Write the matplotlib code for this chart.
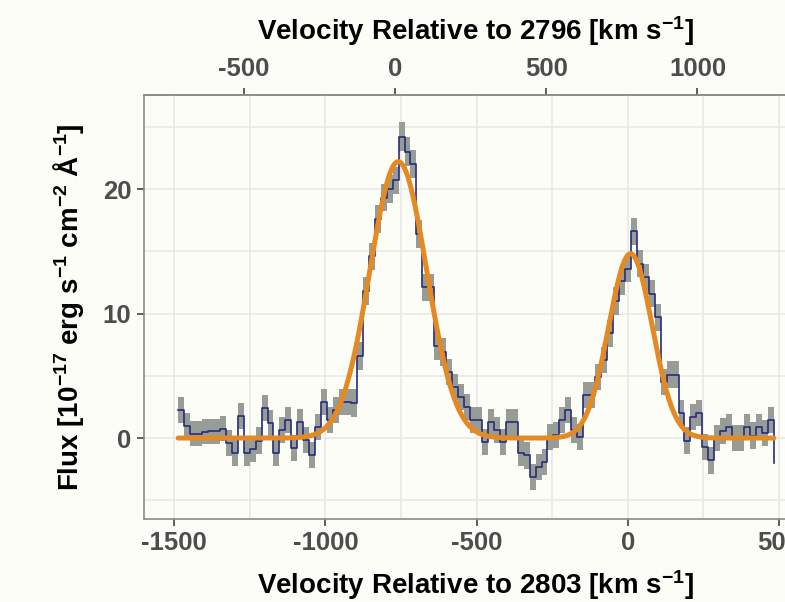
import numpy as np
import matplotlib
matplotlib.use("Agg")
import matplotlib.pyplot as plt
from matplotlib.ticker import MultipleLocator, FixedLocator

# Spectrum binned in velocity relative to Mg II 2803 (km/s)
velocity = np.linspace(-1487, 483, 101)

flux = np.array([
    2.25, 1.0, 0.35, 0.35, 0.5, 0.55, 0.55, 0.75, -0.4, -1.2,
    1.75, -1.2, -0.9, -0.2, 2.4, 1.2, -1.2, 0.65, 1.45, -0.8,
    1.3, -0.15, -1.35, 0.9, 2.9, 1.45, 2.25, 2.9, 2.9, 2.8,
    6.6, 11.8, 14.6, 17.6, 19.3, 20.0, 20.7, 24.2, 23.0, 22.0,
    16.4, 12.1, 12.1, 7.4, 6.9, 5.3, 4.1, 3.3, 2.5, 1.45,
    1.45, -0.3, 1.3, 0.65, -0.3, 1.25, 1.25, -1.2, -1.4, -3.1,
    -2.3, -1.9, 0.1, 0.25, 1.45, 2.25, 0.65, 0.1, 3.45, 3.45,
    4.9, 6.3, 8.4, 11.0, 12.6, 13.6, 16.6, 14.0, 12.9, 11.6,
    9.7, 4.5, 5.1, 5.1, 2.0, -0.2, 1.7, 2.0, -0.7, -1.8,
    0.0, 0.6, 0.9, 0.0, 0.0, 0.9, 0.2, 0.9, 0.4, 1.45,
    -2.0,
])

flux_err = np.array([
    1.05, 1.0, 1.0, 1.0, 1.0, 1.0, 1.0, 1.0, 1.05, 1.05,
    1.05, 1.05, 1.05, 1.05, 1.05, 1.05, 1.05, 1.05, 1.05, 1.05,
    1.05, 1.05, 1.05, 1.05, 1.05, 1.05, 1.05, 1.05, 1.05, 1.1,
    1.1, 1.1, 1.1, 1.1, 1.1, 1.1, 1.1, 1.15, 1.15, 1.1,
    1.1, 1.1, 1.1, 1.1, 1.1, 1.05, 1.05, 1.05, 1.05, 1.05,
    1.05, 1.05, 1.05, 1.05, 1.05, 1.05, 1.05, 1.05, 1.05, 1.05,
    1.05, 1.05, 1.05, 1.05, 1.05, 1.05, 1.05, 1.05, 1.05, 1.05,
    1.05, 1.05, 1.1, 1.1, 1.1, 1.1, 1.1, 1.1, 1.1, 1.1,
    1.1, 1.05, 1.05, 1.05, 1.05, 1.05, 1.05, 1.05, 1.05, 1.05,
    1.05, 1.05, 1.05, 1.05, 1.05, 1.05, 1.05, 1.05, 1.05, 1.05,
    1.05,
])

# Double-Gaussian fit to the doublet: amplitude, centre, width
fit_amp = [22.2, 14.8]
fit_center = [-759.0, 9.0]
fit_sigma = [94.0, 72.0]

# Velocity separation between the 2796 and 2803 lines
LINE_OFFSET = 769.6

bg = "#FDFDF8"
plt.rcParams["font.family"] = ["Liberation Sans", "DejaVu Sans"]
plt.rcParams["font.weight"] = "bold"
plt.rcParams["axes.unicode_minus"] = False
plt.rcParams["mathtext.fontset"] = "custom"
plt.rcParams["mathtext.rm"] = "Liberation Sans:bold"
plt.rcParams["mathtext.default"] = "rm"

TICK_FS = 18.5
TITLE_FS = 20

fig = plt.figure(figsize=(7.85, 6.02), dpi=100, facecolor=bg)
ax = fig.add_axes([144 / 785, 83 / 602, 664 / 785, 424 / 602])
ax.set_facecolor(bg)

ax.fill_between(velocity, flux - flux_err, flux + flux_err, step="post",
                color="#979C97", lw=0, zorder=2)
ax.step(velocity, flux, where="post", color="#262C7A", lw=1.2, zorder=3)

v_fine = np.linspace(velocity[0], velocity[-1], 800)
model = np.zeros_like(v_fine)
for a, mu, s in zip(fit_amp, fit_center, fit_sigma):
    model += a * np.exp(-0.5 * ((v_fine - mu) / s) ** 2)
ax.plot(v_fine, model, color="#E58A23", lw=3.6, solid_capstyle="round", zorder=4)

ax.set_xlim(-1600, 596)
ax.set_ylim(-6.5, 27.55)
ax.xaxis.set_major_locator(FixedLocator([-1500, -1000, -500, 0, 500]))
ax.xaxis.set_minor_locator(MultipleLocator(250))
ax.yaxis.set_major_locator(FixedLocator([0, 10, 20]))
ax.yaxis.set_minor_locator(MultipleLocator(5))
ax.grid(which="both", color="#E6E6E6", lw=1.1)
ax.set_axisbelow(True)

for side in ["left", "bottom", "top"]:
    ax.spines[side].set_color("#8A8A8A")
    ax.spines[side].set_linewidth(1.2)
ax.spines["right"].set_visible(False)

ax.tick_params(which="major", direction="out", length=5, width=1.1,
               color="#333333", labelsize=TICK_FS, labelcolor="#4D4D4D", pad=4)
ax.tick_params(which="minor", length=0)

ax.set_xlabel("Velocity Relative to 2803 [km s$^{-1}$]", fontsize=TITLE_FS,
              fontweight="bold", labelpad=9)
ax.set_ylabel("Flux [10$^{-17}$ erg s$^{-1}$ cm$^{-2}$ Å$^{-1}$]", fontsize=TITLE_FS,
              fontweight="bold", labelpad=12)

top = ax.secondary_xaxis("top", functions=(lambda v: v + LINE_OFFSET,
                                            lambda v: v - LINE_OFFSET))
top.set_xticks([-500, 0, 500, 1000])
top.tick_params(direction="out", length=5, width=1.1, color="#333333",
                labelsize=TICK_FS, labelcolor="#4D4D4D", pad=5)
top.spines["top"].set_color("#8A8A8A")
top.spines["top"].set_linewidth(1.2)
top.set_xlabel("Velocity Relative to 2796 [km s$^{-1}$]", fontsize=TITLE_FS,
               fontweight="bold", labelpad=12)

fig.savefig("out.png", dpi=100, facecolor=bg)
